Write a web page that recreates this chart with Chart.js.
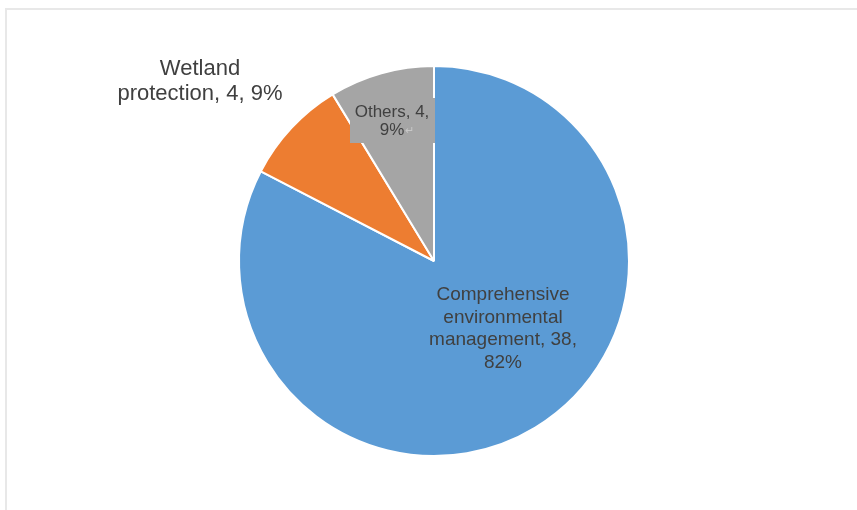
<!DOCTYPE html>
<html>
<head>
<meta charset="utf-8">
<script src="https://cdn.jsdelivr.net/npm/chart.js@4.4.1/dist/chart.umd.min.js"></script>
<style>
  html, body { margin: 0; padding: 0; background: #ffffff; }
  #wrap { position: relative; width: 857px; height: 510px; }
  canvas { display: block; }
</style>
</head>
<body>
<div id="wrap"><canvas id="chart" width="857" height="510"></canvas></div>
<script>
// Project counts by category
const categories = ['Comprehensive environmental management', 'Wetland protection', 'Others'];
const counts = [38, 4, 4];
const percents = [82, 9, 9];
const sliceColors = ['#5B9BD5', '#ED7D31', '#A5A5A5'];

// Label text lines for each slice (category name, count, percent)
const labelLines = [
  ['Comprehensive', 'environmental', 'management, ' + counts[0] + ',', percents[0] + '%'],
  ['Wetland', 'protection, ' + counts[1] + ', ' + percents[1] + '%'],
  ['Others, ' + counts[2] + ',', percents[2] + '%']
];

// Where each label block sits and how it is set
const labelStyle = [
  { x: 503, y: 300, size: 19, lineH: 22.5 },
  { x: 200, y: 75, size: 22, lineH: 25 },
  { x: 392, y: 117, size: 17, lineH: 18, box: [350, 98, 85, 45] }
];

const TEXT = '#404040';
const FONT = '"Liberation Sans", Arial, Helvetica, sans-serif';

// Light frame along the top and left edges
const framePlugin = {
  id: 'frame',
  beforeDraw(chart) {
    const ctx = chart.ctx;
    ctx.save();
    ctx.fillStyle = '#ffffff';
    ctx.fillRect(0, 0, chart.width, chart.height);
    ctx.strokeStyle = '#e8e8e8';
    ctx.lineWidth = 2;
    ctx.beginPath();
    ctx.moveTo(6, chart.height + 2);
    ctx.lineTo(6, 9);
    ctx.lineTo(chart.width + 2, 9);
    ctx.stroke();
    ctx.restore();
  }
};

// Data labels drawn from the arrays above
const labelPlugin = {
  id: 'sliceLabels',
  afterDatasetsDraw(chart) {
    const ctx = chart.ctx;
    ctx.save();
    labelLines.forEach((lines, i) => {
      const st = labelStyle[i];
      if (st.box) {
        ctx.fillStyle = sliceColors[i];
        ctx.fillRect(st.box[0], st.box[1], st.box[2], st.box[3]);
      }
      ctx.font = st.size + 'px ' + FONT;
      ctx.fillStyle = TEXT;
      ctx.textAlign = 'center';
      ctx.textBaseline = 'alphabetic';
      lines.forEach((t, k) => {
        ctx.fillText(t, st.x, st.y + k * st.lineH);
      });
      if (i === 2) {
        // paragraph mark after the last line
        const last = lines[lines.length - 1];
        const w = ctx.measureText(last).width;
        ctx.font = '11px ' + FONT;
        ctx.fillStyle = '#c8c8c8';
        ctx.textAlign = 'left';
        ctx.fillText('\u21B5', st.x + w / 2 + 1, st.y + (lines.length - 1) * st.lineH - 1);
      }
    });
    ctx.restore();
  }
};

new Chart(document.getElementById('chart'), {
  type: 'pie',
  data: {
    labels: categories,
    datasets: [{
      data: counts,
      backgroundColor: sliceColors,
      borderColor: '#ffffff',
      borderWidth: 2,
      radius: 195
    }]
  },
  options: {
    responsive: false,
    animation: false,
    layout: { padding: { left: 234, right: 223, top: 61, bottom: 49 } },
    plugins: {
      legend: { display: false },
      tooltip: { enabled: false },
      title: { display: false }
    }
  },
  plugins: [framePlugin, labelPlugin]
});
</script>
</body>
</html>
